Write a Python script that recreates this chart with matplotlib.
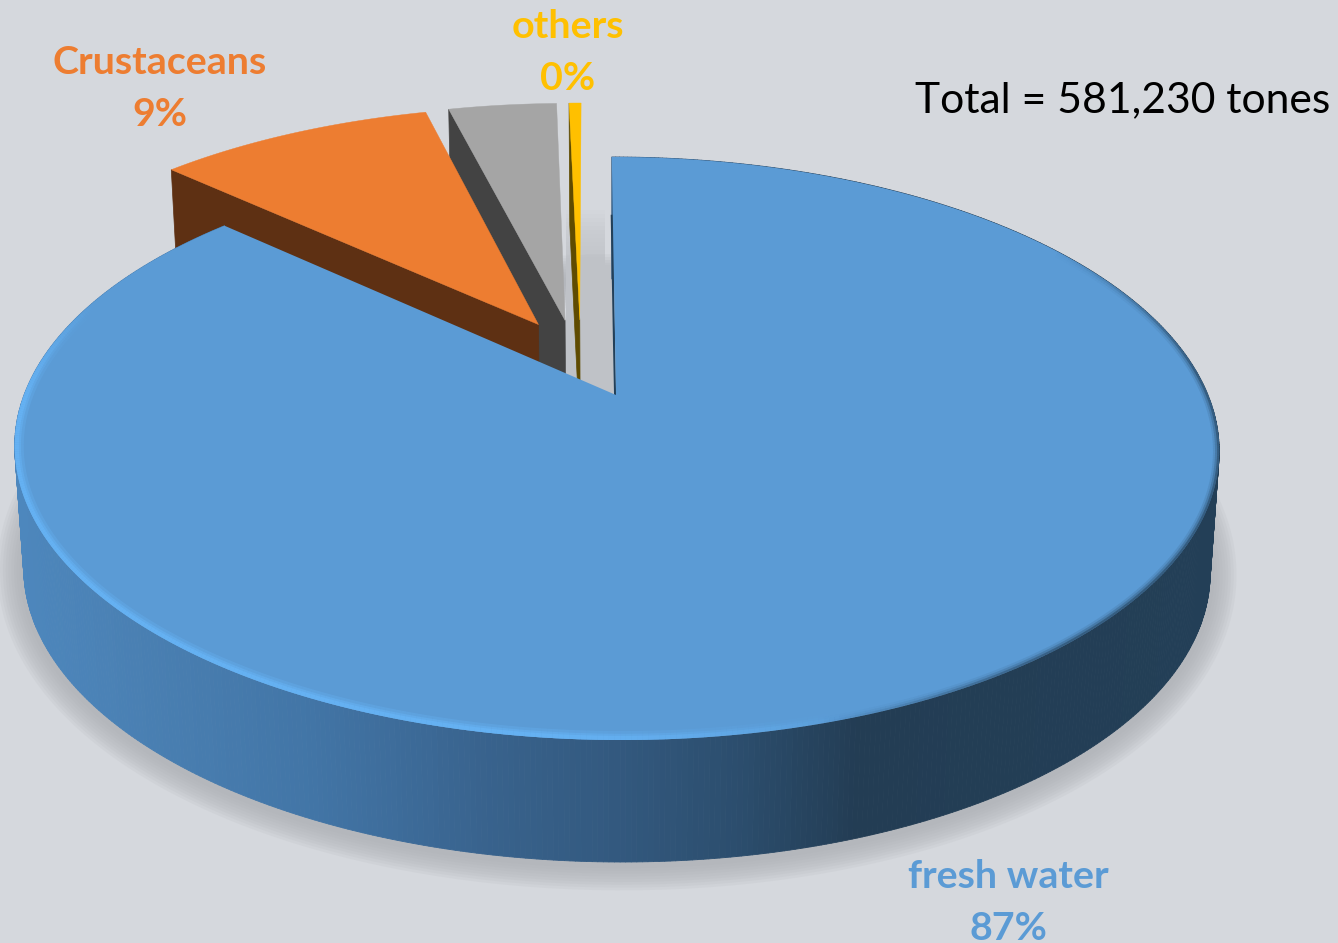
import numpy as np
import matplotlib.pyplot as plt
from matplotlib.collections import LineCollection, PolyCollection
from matplotlib.colors import LinearSegmentedColormap

# Values
categories = ['fresh water', 'Crustaceans', 'molluscs', 'others']
shares = [86.8, 9.2, 3.6, 0.4]
shown_labels = ['87%', '9%', '', '0%']
total_text = 'Total = 581,230 tones'

# Style per slice
top_colors = ['#5b9bd5', '#ed7d31', '#a5a5a5', '#ffc000']
wall_colors = ['#234059', '#5e3013', '#434343', '#5f4b00']
label_colors = ['#5b9bd5', '#ed7d31', '#a5a5a5', '#ffc000']
explode = [(0, 0), (-0.135, 0.262), (-0.088, 0.278), (-0.062, 0.28)]
label_pos = [(1008, 899), (160, 86), None, (568, 50)]

bg = '#d5d8dd'
cx, cy = 616, 395
A, B, k, tilt = 592, 281.7, 0.1835, -5
depth, bottom_scale = 122, 0.985

plt.rcParams['font.family'] = ['Lato', 'DejaVu Sans']


def project(u, v, low=False):
    # ground plane of the pie to picture pixels
    u, v = np.asarray(u, float), np.asarray(v, float)
    w = 1 + k * v
    x = A * u / w + tilt * v / w
    y = -B * v / w
    if low:
        return cx + x * bottom_scale, cy + y + depth
    return cx + x, cy + y


fig = plt.figure(figsize=(13.38, 9.43), dpi=100, facecolor=bg)
ax = fig.add_axes([0, 0, 1, 1])
ax.set_xlim(0, 1338)
ax.set_ylim(943, 0)
ax.axis('off')

# angles from the shares, clockwise from twelve o'clock
edges = np.radians(np.concatenate([[0], np.cumsum(shares)]) * 3.6)

# soft shadow under the disc
ring = np.linspace(0, 2 * np.pi, 400)
sx, sy = project(np.sin(ring), np.cos(ring), low=True)
for lw in np.arange(38, 2, -4):
    ax.plot(sx, sy + 2, color='#a9acb1', lw=lw, alpha=0.12, zorder=1,
            solid_joinstyle='round')

# shadow of the small slices on the floor
sh_left = project(-0.06, 0.28)[0] - 15
sh_right = project(0, 0.7)[0]
sh_bottom = project(0, 0)[1]
sh_top = project(0, 0.5)[1]
ax.fill([sh_left, sh_right, sh_right, sh_left],
        [sh_top, sh_top, sh_bottom, sh_bottom], color='#bfc2c7', zorder=2, lw=0)
for i, dy in enumerate(np.arange(4, 60, 4)):
    ax.fill([sh_left, sh_right - 8, sh_right - 8, sh_left],
            [sh_top - dy, sh_top - dy, sh_top, sh_top],
            color='#bfc2c7', alpha=0.09, zorder=2, lw=0)

# small slices, back to front
for i in [3, 2, 1]:
    eu, ev = explode[i]
    th = np.linspace(edges[i], edges[i + 1], 40)
    u = np.concatenate([[eu], eu + np.sin(th)])
    v = np.concatenate([[ev], ev + np.cos(th)])
    # radial wall on the front side of the slice
    x1, y1 = project([eu, eu + np.sin(edges[i])], [ev, ev + np.cos(edges[i])])
    x2, y2 = project([eu, eu + np.sin(edges[i])], [ev, ev + np.cos(edges[i])], low=True)
    ax.fill([x1[0], x1[1], x2[1], x2[0]], [y1[0], y1[1], y2[1], y2[0]],
            color=wall_colors[i], zorder=3 + (3 - i) * 2, lw=0.5)
    px, py = project(u, v)
    ax.fill(px, py, color=top_colors[i], zorder=4 + (3 - i) * 2, lw=0.3)

# outer wall of the big slice, coloured by position
wall_cmap = LinearSegmentedColormap.from_list(
    'wall', [(0.0, '#4d87bd'), (0.1, '#4a80b3'), (0.25, '#4275a6'), (0.4, '#38628c'),
             (0.5, '#33597f'), (0.6, '#2c4e6e'), (0.7, '#233d54'), (1.0, '#233f57')])
th = np.linspace(0, edges[1], 700)
tx, ty = project(np.sin(th), np.cos(th))
bx, by = project(np.sin(th), np.cos(th), low=True)
quads, cols = [], []
for j in range(len(th) - 1):
    quads.append([(tx[j], ty[j]), (tx[j + 1], ty[j + 1]), (bx[j + 1], by[j + 1]), (bx[j], by[j])])
    cols.append(wall_cmap(((tx[j] + bx[j]) / 2 - 15) / 1205))
ax.add_collection(PolyCollection(quads, facecolors=cols, edgecolors=cols, linewidths=0.6, zorder=20))

# top of the big slice
ux = np.concatenate([[0], np.sin(th)])
uy = np.concatenate([[0], np.cos(th)])
px, py = project(ux, uy)
ax.fill(px, py, color=top_colors[0], zorder=22, lw=0)

# dark soft edge on the right, light bevel on the front left
clip = ax.fill(px, py, color='none', zorder=22, lw=0)[0]
seg = np.stack([np.column_stack([tx[:-1], ty[:-1]]), np.column_stack([tx[1:], ty[1:]])], axis=1)
mid_x = (tx[:-1] + tx[1:]) / 2
mid_y = (ty[:-1] + ty[1:]) / 2
dark = np.clip((mid_x - 820) / 250, 0, 1) * np.clip((mid_y - 250) / 120, 0, 1)
light = np.clip((860 - mid_x) / 300, 0, 1) * np.clip((mid_y - 300) / 100, 0, 1)
for lw, a in [(9, 0.12), (6, 0.25), (3, 0.5)]:
    rgba = np.zeros((len(seg), 4))
    rgba[:, :3] = (0.14, 0.25, 0.35)
    rgba[:, 3] = dark * a
    lc = LineCollection(seg, colors=rgba, linewidths=lw, zorder=23)
    ax.add_collection(lc)
    lc.set_clip_path(clip)
for lw, a in [(13, 0.3), (9, 0.5), (6, 0.8)]:
    rgba = np.zeros((len(seg), 4))
    rgba[:, :3] = (0.40, 0.70, 0.96)
    rgba[:, 3] = light * a
    lc = LineCollection(seg, colors=rgba, linewidths=lw, zorder=24)
    ax.add_collection(lc)
    lc.set_clip_path(clip)

# thin dark cut face along twelve o'clock
lx, ly = project([0, 0], [0, 0.72])
ax.plot(lx - 1, ly, color=wall_colors[0], lw=1.6, zorder=21)

# labels
for i in range(4):
    if label_pos[i] is None:
        continue
    ax.text(label_pos[i][0], label_pos[i][1] - 23, categories[i], color=label_colors[i],
            fontsize=28.4, fontweight='bold', ha='center', va='center', zorder=30)
    ax.text(label_pos[i][0], label_pos[i][1] + 29, shown_labels[i], color=label_colors[i],
            fontsize=28.4, fontweight='bold', ha='center', va='center', zorder=30)
ax.text(1330, 100, total_text, color='black', fontsize=30.7, ha='right', va='center', zorder=30)

fig.savefig('out.png', dpi=100, facecolor=bg)
